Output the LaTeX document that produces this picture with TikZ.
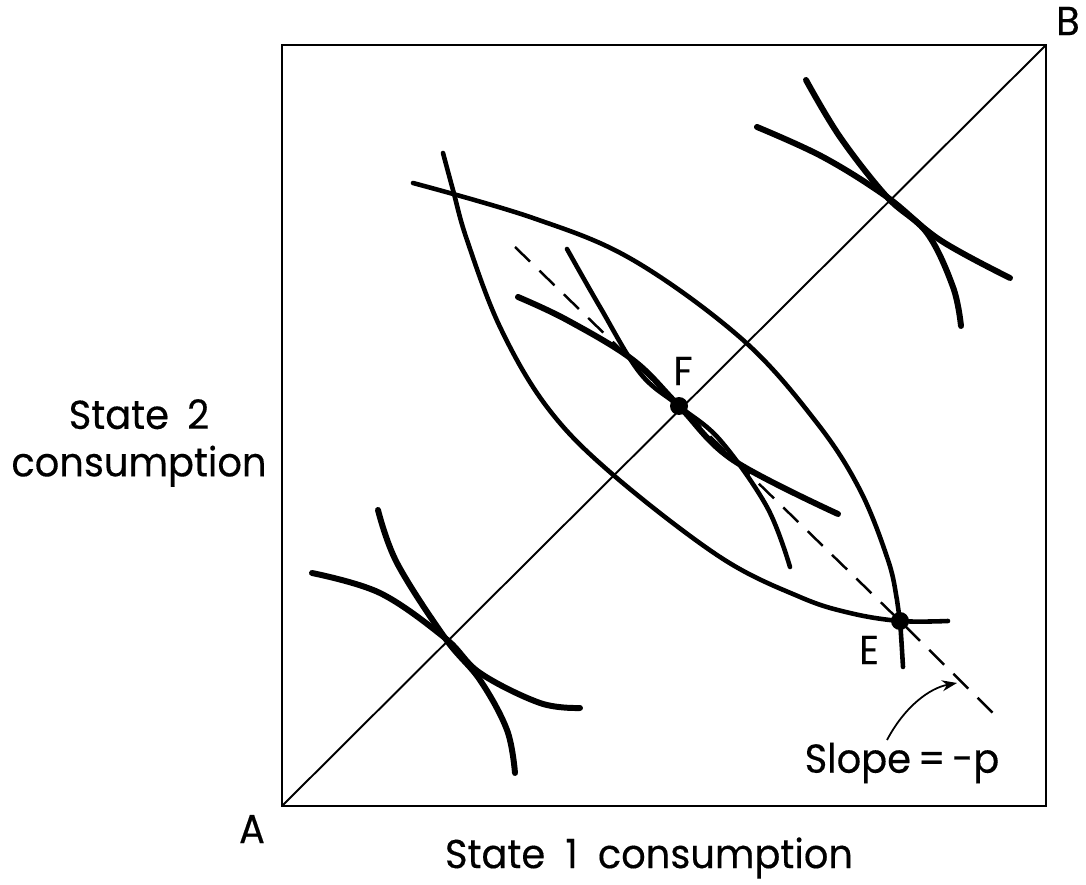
\documentclass[tikz,border=0pt]{standalone}
\usepackage{fontspec}
\setmainfont{Poppins}[FakeBold=0.3, FakeStretch=0.95]
\usetikzlibrary{arrows.meta}

\begin{document}
\begin{tikzpicture}[
        x=0.02cm, y=-0.02cm,
        frame/.style={draw=black, line width=1.6pt},
        diag/.style={draw=black, line width=1.1pt},
        lens/.style={draw=black, line width=2.6pt, line cap=round},
        indiff/.style={draw=black, line width=3.4pt, line cap=round},
        budget/.style={draw=black, line width=1.4pt, dash pattern=on 0.42cm off 0.26cm},
        dot/.style={circle, fill=black, inner sep=0pt, minimum size=0.36cm},
        lbl/.style={font=\fontsize{23}{27}\selectfont, inner sep=1pt}
    ]
        \useasboundingbox (0,0) rectangle (1086,885);

        % Corners and points
        \coordinate (A) at (282,806);
        \coordinate (B) at (1046,45);
        \coordinate (F) at (679,406);
        \coordinate (E) at (900,621);

        % Box and diagonal
        \draw[frame] (A) rectangle (B);
        \draw[diag] (A) -- (B);

        % Budget line
        \draw[budget] (515,247) -- (F) -- (E) -- (1000,720);

        % Lens
        \draw[lens] plot[smooth, tension=0.6] coordinates {(413,183) (533,218) (633,260) (743,340) (817,423) (860,490) (888,560) (897,600) (900,621) (903,667)};
        \draw[lens] plot[smooth, tension=0.6] coordinates {(443,153) (453,190) (467,240) (500,327) (547,407) (611,473) (720,557) (800,597) (850,613) (900,621) (948,621)};

        % Tangent curves at F
        \draw[indiff] plot[smooth, tension=0.6] coordinates {(518,297) (567,320) (633,360) (679,406) (733,460) (838,514)};
        \draw[lens] plot[smooth, tension=0.6] coordinates {(567,249) (600,307) (640,373) (679,406) (720,440) (767,507) (790,567)};

        % Curves on the diagonal
        \draw[indiff] plot[smooth, tension=0.6] coordinates {(312,573) (380,593) (445,638) (480,673) (540,703) (580,708)};
        \draw[indiff] plot[smooth, tension=0.6] coordinates {(378,510) (397,563) (445,638) (480,680) (507,730) (515,773)};
        \draw[indiff] plot[smooth, tension=0.6] coordinates {(757,127) (823,157) (887,197) (940,240) (1010,278)};
        \draw[indiff] plot[smooth, tension=0.6] coordinates {(806,80) (840,137) (887,197) (927,233) (953,287) (961,326)};

        % Points
        \node[dot] (dotF) at (F) {};
        \node[dot] (dotE) at (E) {};

        % Labels
        \node[lbl] (labA) at (252,829) {A};
        \node[lbl] (labB) at (1068,21) {B};
        \node[lbl] (labF) at (683,371) {F};
        \node[lbl] (labE) at (869,650) {E};
        \node[lbl] (slope) at (902,763) {Slope\,=\,-p};
        \node[lbl, align=center] (ylab) at (139,443) {State\hspace{0.45em}2\\consumption};
        \node[lbl] (xlab) at (649,858) {State\hspace{0.5em}1\hspace{0.5em}consumption};
        \coordinate (tip) at (957,683);

        % Arrow
        \draw[-{Stealth[length=0.3cm, width=0.22cm]}, line width=1pt] (887,740) .. controls (905,706) and (930,688) .. (tip);
    \end{tikzpicture}
\end{document}
